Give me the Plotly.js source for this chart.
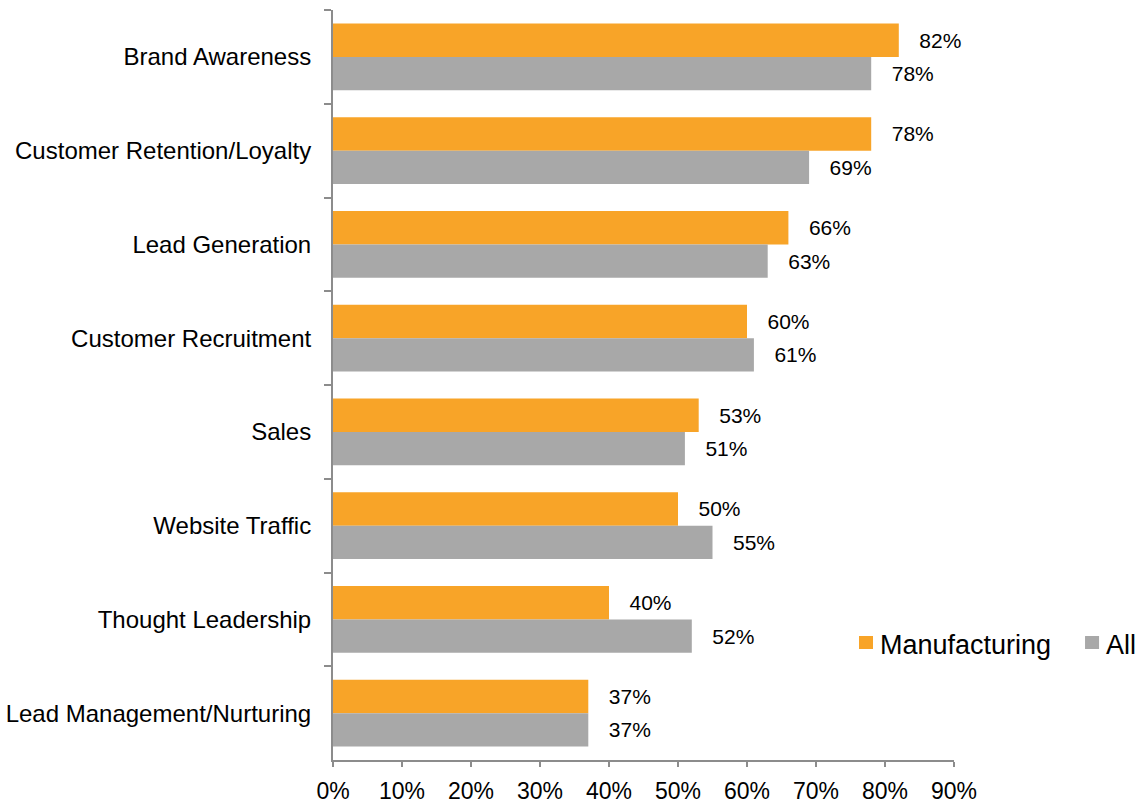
<!DOCTYPE html>
<html>
<head>
<meta charset="utf-8">
<script src="https://cdn.plot.ly/plotly-3.0.1.min.js"></script>
<style>html,body{margin:0;padding:0;background:#fff;}#chart{width:1137px;height:803px;}</style>
</head>
<body>
<div id="chart"></div>
<script>
const categories = ["Brand Awareness","Customer Retention/Loyalty","Lead Generation","Customer Recruitment","Sales","Website Traffic","Thought Leadership","Lead Management/Nurturing"];
const manufacturing = [82,78,66,60,53,50,40,37];
const all = [78,69,63,61,51,55,52,37];
const seriesNames = ["Manufacturing", "All"];
const seriesColors = ["#F8A428", "#A8A8A8"];
const xTickVals = [0,10,20,30,40,50,60,70,80,90];
const xTickText = xTickVals.map(v => v + "%");

const font = "Arial, 'Liberation Sans', sans-serif";
function trace(name, vals, color) {
  return {
    type: "bar", orientation: "h", name: name,
    x: vals, y: categories,
    marker: {color: color},
    text: vals.map(v => "   " + v + "%"),
    textposition: "outside",
    constraintext: "none",
    cliponaxis: false,
    textfont: {family: font, size: 21, color: "#000"},
    hoverinfo: "x+y"
  };
}
const data = [
  trace(seriesNames[0], manufacturing, seriesColors[0]),
  trace(seriesNames[1], all, seriesColors[1])
];

// Manual legend (placement in paper coordinates)
const legendPos = [{sx: 0.847, tx: 0.8776}, {sx: 1.211, tx: 1.2415}];
const legendShapes = legendPos.map((p, i) => ({
  type: "rect", xref: "paper", yref: "paper",
  x0: p.sx, x1: p.sx + 0.0226, y0: 0.148, y1: 0.1653,
  fillcolor: seriesColors[i], line: {width: 0}
}));
const legendText = legendPos.map((p, i) => ({
  xref: "paper", yref: "paper", x: p.tx, y: 0.1533, xanchor: "left", yanchor: "middle",
  text: seriesNames[i], showarrow: false, font: {size: 27, family: font, color: "#000"}
}));

const layout = {
  width: 1137, height: 803,
  margin: {l: 333, r: 183, t: 10, b: 43},
  paper_bgcolor: "#fff", plot_bgcolor: "#fff",
  barmode: "group", bargap: 0.29, bargroupgap: 0,
  font: {family: font, color: "#000"},
  showlegend: false,
  shapes: legendShapes,
  annotations: legendText,
  xaxis: {range: [0, 90], tickvals: xTickVals, ticktext: xTickText, showgrid: false, zeroline: false,
          showline: true, linecolor: "#8c8c8c", linewidth: 2, ticks: "outside", ticklen: 5,
          tickwidth: 2, tickcolor: "#8c8c8c", ticklabelstandoff: 4,
          tickfont: {size: 23, family: font, color: "#000"}},
  yaxis: {autorange: "reversed", showgrid: false, zeroline: false, showline: true,
          linecolor: "#8c8c8c", linewidth: 2, ticks: "outside", ticklen: 7, tickwidth: 2,
          tickcolor: "#8c8c8c", tickson: "boundaries", ticklabelstandoff: 15,
          tickfont: {size: 24, family: font, color: "#000"}}
};
Plotly.newPlot("chart", data, layout, {displayModeBar: false, staticPlot: true});
</script>
</body>
</html>
